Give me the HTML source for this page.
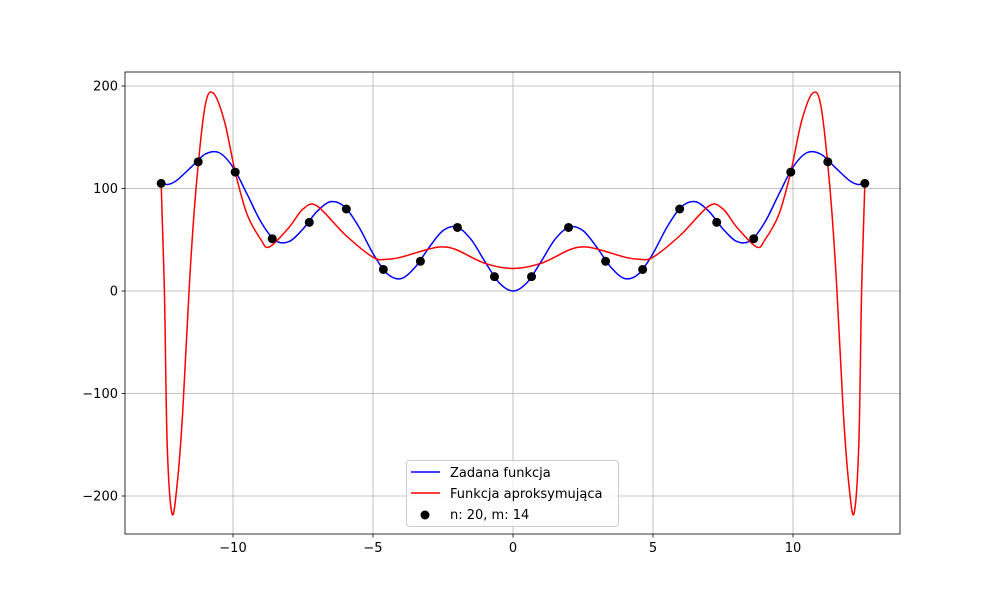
<!DOCTYPE html>
<html><head><meta charset="utf-8"><style>
body{margin:0;background:#fff;font-family:"Liberation Sans","DejaVu Sans",sans-serif}
svg text{font-family:"DejaVu Sans","Liberation Sans",sans-serif;font-size:13px}
</style></head><body>
<svg id="chart" width="1000" height="600"></svg>
<script>
const nodeX=[-12.566,-11.243,-9.921,-8.598,-7.275,-5.953,-4.630,-3.307,-1.984,-0.661,0.661,1.984,3.307,4.630,5.953,7.275,8.598,9.921,11.243,12.566];
const nodeY=[105,126,116,51,67,80,21,29,62,14,14,62,29,21,80,67,51,116,126,105];
const blueX=[0,0.5,1,1.5,2,2.5,3,3.5,4,4.5,5,5.5,6,6.5,7,7.5,8,8.5,9,9.5,10,10.5,11,11.5,12,12.3,12.566];
const blueY=[0,8.2,28.6,50.4,62.4,58.9,42.4,23,12.1,17,36.6,62.3,81.8,87.2,77.6,60.5,48.2,49.4,67.3,94.7,120.8,135,133.4,120.7,108.1,104,105];
const redX=[0,1,2,2.5,3,4,4.5,5,6,7,7.5,8,8.7,9,9.5,9.92,10.3,10.7,11.0,11.32,11.55,11.8,12.0,12.18,12.35,12.45,12.566];
const redY=[22,27,40,43,41,33,31,33,55,83,80,62,43,50,75,116,165,193,180,100,10,-120,-190,-217,-150,0,105];
const xTicks=[-10,-5,0,5,10];
const yTicks=[-200,-100,0,100,200];
const L=125,R=900,T=72,B=534;
const sx=v=>513+v*28, sy=v=>291-v*1.025;
const NS="http://www.w3.org/2000/svg",svg=document.getElementById('chart');
function mk(t,a,p){const e=document.createElementNS(NS,t);for(const k in a)e.setAttribute(k,a[k]);(p||svg).appendChild(e);return e;}
// grid
const g=mk('g',{});


xTicks.forEach(t=>{mk('line',{x1:sx(t),x2:sx(t),y1:T,y2:B,stroke:'#b0b0b0','stroke-width':0.8},g);
 mk('line',{x1:sx(t),x2:sx(t),y1:B,y2:B+3.5,stroke:'#000','stroke-width':0.8});
 const tx=mk('text',{x:sx(t),y:B+18,'text-anchor':'middle'});tx.textContent=(t<0?'\u2212':'')+Math.abs(t);
 
 });
yTicks.forEach(t=>{mk('line',{x1:L,x2:R,y1:sy(t),y2:sy(t),stroke:'#b0b0b0','stroke-width':0.8},g);
 mk('line',{x1:L-3.5,x2:L,y1:sy(t),y2:sy(t),stroke:'#000','stroke-width':0.8});
 const tx=mk('text',{x:L-7,y:sy(t)+4.5,'text-anchor':'end'});tx.textContent=(t<0?'\u2212':'')+Math.abs(t);
 
 });
function mirror(xs,ys){const X=[],Y=[];for(let i=xs.length-1;i>0;i--){X.push(-xs[i]);Y.push(ys[i]);}for(let i=0;i<xs.length;i++){X.push(xs[i]);Y.push(ys[i]);}return [X,Y];}
function cr(xs,ys){const P=xs.map((x,i)=>[sx(x),sy(ys[i])]);let d='M'+P[0][0]+','+P[0][1];
 for(let i=0;i<P.length-1;i++){const p0=P[Math.max(0,i-1)],p1=P[i],p2=P[i+1],p3=P[Math.min(P.length-1,i+2)];
  d+=`C${p1[0]+(p2[0]-p0[0])/6},${p1[1]+(p2[1]-p0[1])/6} ${p2[0]-(p3[0]-p1[0])/6},${p2[1]-(p3[1]-p1[1])/6} ${p2[0]},${p2[1]}`;}return d;}
const [bx,by]=mirror(blueX,blueY),[rx,ry]=mirror(redX,redY);
const bl=mk('path',{d:cr(bx,by),fill:'none',stroke:'#0000ff','stroke-width':1.5});


const rl=mk('path',{d:cr(rx,ry),fill:'none',stroke:'#ff0000','stroke-width':1.5});


nodeX.forEach((x,i)=>{const c=mk('circle',{cx:sx(x),cy:sy(nodeY[i]),r:4.5,fill:'#000'});
 
 });
const fr=mk('rect',{x:L,y:T,width:R-L,height:B-T,fill:'none',stroke:'#000','stroke-width':0.8});


// legend
const lg=mk('g',{});


mk('rect',{x:406.5,y:460.5,width:212,height:66,rx:3,fill:'#fff','fill-opacity':0.8,stroke:'#ccc'},lg);
mk('line',{x1:411,x2:440,y1:472,y2:472,stroke:'#0000ff','stroke-width':1.5},lg);
mk('line',{x1:411,x2:440,y1:493,y2:493,stroke:'#ff0000','stroke-width':1.5},lg);
mk('circle',{cx:425,cy:515,r:4.5,fill:'#000'},lg);
[['Zadana funkcja',477],['Funkcja aproksymująca',498],['n: 20, m: 14',519]].forEach(([s,y])=>{const t=mk('text',{x:450,y:y},lg);t.textContent=s;
 
 });
</script>
</body></html>
